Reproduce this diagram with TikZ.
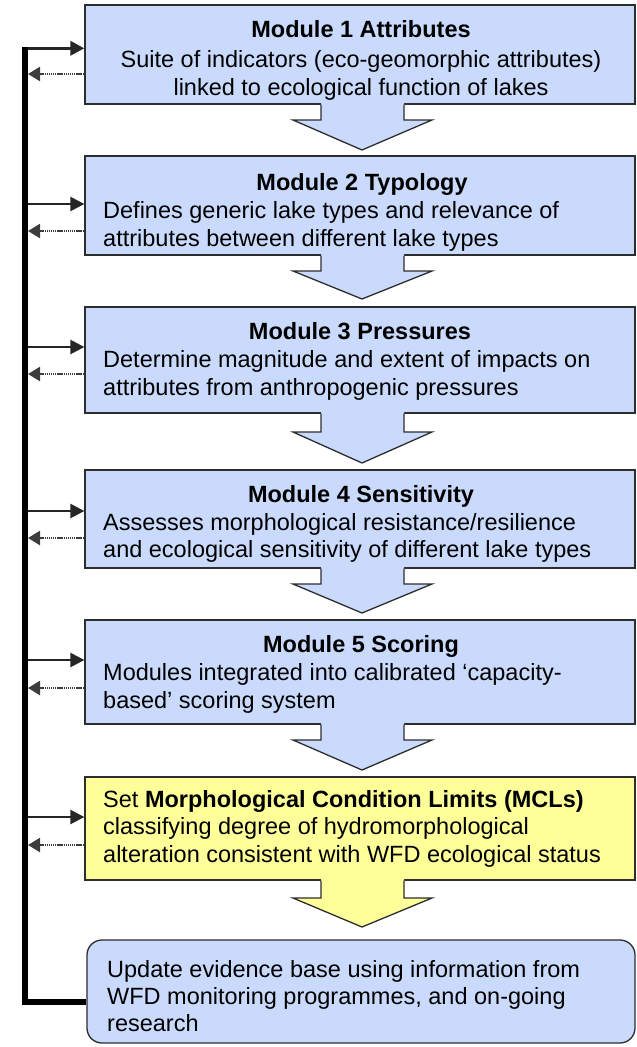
\documentclass[tikz,border=0pt]{standalone}
\usepackage{fontspec}
\setmainfont{Liberation Sans}
\usetikzlibrary{arrows.meta}
\definecolor{modblue}{RGB}{201,218,252}
\definecolor{mclyellow}{RGB}{255,255,153}
\definecolor{edgegray}{RGB}{45,45,45}
\definecolor{dotgray}{RGB}{60,60,60}

% block arrow between two stacked boxes: #1 top (box bottom), #2 wing level, #3 tip, #4 fill
\newcommand\flowarrow[4]{%
  \fill[#4] (321,#1-1.2) -- (321,#2) -- (293,#2) -- (362,#3) -- (432,#2)
    -- (404,#2) -- (404,#1-1.2) -- cycle;
  \draw[arrowedge] (321,#1+0.6) -- (321,#2) -- (293,#2) -- (362,#3)
    -- (432,#2) -- (404,#2) -- (404,#1+0.6);
}

\begin{document}
\begin{tikzpicture}[x=1pt,y=-1pt,
  modbox/.style={draw=edgegray, line width=1.3pt, fill=modblue,
    minimum width=550pt, inner sep=0pt},
  mclbox/.style={modbox, fill=mclyellow},
  updbox/.style={modbox, minimum width=548pt, rounded corners=15pt},
  arrowedge/.style={draw=edgegray, line width=1.3pt, line join=miter},
  txt/.style={inner sep=0pt, font=\fontsize{23.5}{28}\selectfont},
  head/.style={txt, font=\fontsize{23.5}{28}\selectfont\bfseries, anchor=base},
  body/.style={txt, anchor=base west},
  feed/.style={line width=2.5pt, draw=black!85,
    -{Triangle[length=14pt,width=14pt]}},
  topfeed/.style={feed, line width=3.4pt},
  back/.style={line width=2.2pt, draw=dotgray, dash pattern=on 1.2pt off 0.7pt,
    -{Triangle[length=12pt,width=14pt]}},
  bus/.style={line width=6pt, draw=black, line join=miter}
]
\useasboundingbox (0,0) rectangle (637,1047);

% module boxes
\node[modbox, minimum height=99pt]  (m1) at (360,54.5) {};
\node[modbox, minimum height=99pt]  (m2) at (360,205.5) {};
\node[modbox, minimum height=106pt] (m3) at (360,360) {};
\node[modbox, minimum height=98pt]  (m4) at (360,519) {};
\node[modbox, minimum height=104pt] (m5) at (360,672) {};
\node[mclbox, minimum height=103pt] (m6) at (360,828.5) {};
\node[updbox, minimum height=103pt] (m7) at (361,991.5) {};

% block arrows down the chain
\flowarrow{104}{120}{150}{modblue}
\flowarrow{255}{271}{299}{modblue}
\flowarrow{413}{432}{463}{modblue}
\flowarrow{568}{584}{613}{modblue}
\flowarrow{724}{740}{770}{modblue}
\flowarrow{880}{898}{927}{mclyellow}

% texts
\node[head] (h1) at (361,37) {Module 1 Attributes};
\node[txt, anchor=base] (t11) at (361,67) {Suite of indicators (eco-geomorphic attributes)};
\node[txt, anchor=base] (t12) at (361,95) {linked to ecological function of lakes};

\node[head] (h2) at (362,190) {Module 2 Typology};
\node[body] (t21) at (103,218) {Defines generic lake types and relevance of};
\node[body] (t22) at (103,246) {attributes between different lake types};

\node[head] (h3) at (360,339) {Module 3 Pressures};
\node[body] (t31) at (103,367) {Determine magnitude and extent of impacts on};
\node[body] (t32) at (103,395) {attributes from anthropogenic pressures};

\node[head] (h4) at (361,502) {Module 4 Sensitivity};
\node[body] (t41) at (103,530) {Assesses morphological resistance/resilience};
\node[body] (t42) at (103,557) {and ecological sensitivity of different lake types};

\node[head] (h5) at (361,652) {Module 5 Scoring};
\node[body] (t51) at (103,680) {Modules integrated into calibrated ‘capacity-};
\node[body] (t52) at (103,708) {based’ scoring system};

\node[body] (t61) at (103,807) {Set \textbf{Morphological Condition Limits (MCLs)}};
\node[body] (t62) at (103,834) {classifying degree of hydromorphological};
\node[body] (t63) at (103,862) {alteration consistent with WFD ecological status};

\node[body] (t71) at (107,977) {Update evidence base using information from};
\node[body] (t72) at (107,1004) {WFD monitoring programmes, and on-going};
\node[body] (t73) at (107,1031) {research};

% feedback bus on the left
\coordinate (busbot) at (25,1002);
\coordinate (bustop) at (25,46.5);
\coordinate (b1in) at (22,48.3);
\coordinate (b1out) at (28,74);
\coordinate (b2in) at (25,204);
\coordinate (b2out) at (28,231);
\coordinate (b3in) at (25,347);
\coordinate (b3out) at (28,374);
\coordinate (b4in) at (25,511);
\coordinate (b4out) at (28,538);
\coordinate (b5in) at (25,660);
\coordinate (b5out) at (28,688);
\coordinate (b6in) at (25,817);
\coordinate (b6out) at (28,845);

\draw[topfeed] (b1in) -- (m1.west |- b1in);
\draw[feed] (b2in) -- (m2.west |- b2in);
\draw[feed] (b3in) -- (m3.west |- b3in);
\draw[feed] (b4in) -- (m4.west |- b4in);
\draw[feed] (b5in) -- (m5.west |- b5in);
\draw[feed] (b6in) -- (m6.west |- b6in);

\draw[back] (m1.west |- b1out) -- (b1out);
\draw[back] (m2.west |- b2out) -- (b2out);
\draw[back] (m3.west |- b3out) -- (b3out);
\draw[back] (m4.west |- b4out) -- (b4out);
\draw[back] (m5.west |- b5out) -- (b5out);
\draw[back] (m6.west |- b6out) -- (b6out);

\draw[bus] (m7.west |- busbot) -- (busbot) -- (bustop);
\end{tikzpicture}
\end{document}
